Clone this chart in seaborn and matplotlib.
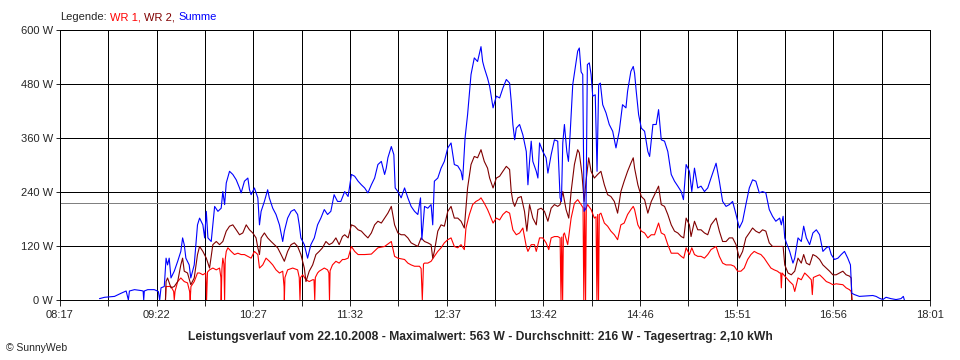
import matplotlib
matplotlib.use("Agg")
import pandas as pd
import matplotlib.pyplot as plt
import seaborn as sns

# Leistungsverlauf 22.10.2008, Zeit in Minuten nach Mitternacht, Leistung in W

t_sum = [523.5, 526.9, 533.6, 538.0, 541.4, 542.9, 543.6, 547.0, 551.4, 552.8, 553.2, 553.6, 555.9, 560.3,
         563.0, 563.9, 564.8, 567.0, 568.2, 569.2, 570.3, 571.5, 573.7, 576.0, 578.1, 579.3, 580.4, 581.5,
         583.7, 584.8, 587.1, 589.3,
         590.7, 592.9, 594.1, 595.2, 596.3, 598.5, 600.8, 603.0, 605.2, 606.3, 607.5, 608.6, 610.8, 613.0,
         615.3, 617.5, 618.6, 620.8, 623.1, 624.2, 625.3, 627.5, 629.8, 630.9, 632.0, 634.2, 636.4, 637.5,
         639.8, 642.0, 644.3, 646.5, 647.6, 649.8, 652.1, 654.3, 656.5, 657.6, 658.7, 661.0, 663.2, 665.4,
         667.7, 669.9, 672.1, 674.4, 676.6, 678.8, 681.0, 683.3, 685.5,
         688.1, 690.4, 692.6, 694.8, 697.1, 699.3, 701.5, 703.7, 706.0, 708.2, 710.4, 712.7, 714.9, 716.0,
         717.1, 719.4, 721.1, 722.0, 723.8, 726.0, 728.3, 730.5, 732.7, 735.0, 737.2, 739.0, 739.9, 741.7,
         743.9, 746.1, 747.2, 748.3, 750.6, 752.8, 755.0, 757.3, 759.5, 761.7, 764.0, 766.2, 767.3, 768.9,
         770.6, 772.9, 775.1, 777.3, 779.6, 780.7, 781.8, 784.0,
         785.4, 787.7, 789.9, 792.1, 794.3, 796.6, 798.8, 799.9, 801.0, 802.2, 803.3, 805.5, 807.7, 810.0,
         811.1, 812.2, 813.3, 814.4, 816.7, 817.8, 818.9, 821.1, 823.3, 824.5, 826.7, 828.9, 831.1, 832.7,
         833.6, 834.5, 835.6, 837.2, 838.3, 839.4, 841.2, 842.3, 844.5, 845.6, 846.8, 847.9, 848.8, 850.1,
         851.0, 852.3, 853.5, 854.6, 856.3, 857.5, 858.6, 859.7, 861.3, 863.5, 865.7, 868.0, 870.2, 872.4,
         874.6, 876.9, 878.0, 880.2, 881.8,
         882.7, 883.8, 885.4, 887.2, 889.4, 891.6, 892.8, 895.0, 897.2, 898.8, 900.6, 902.8, 905.0, 907.3,
         909.5, 911.7, 914.0, 915.5, 917.3, 919.5, 921.1, 922.9, 925.1, 927.3, 929.6, 931.8, 934.0, 937.4,
         939.6, 941.8, 944.1, 946.3, 948.5, 950.8, 953.0, 955.2, 957.4, 959.7, 961.9, 964.1, 966.4, 968.6,
         970.8, 973.1, 975.3, 977.5,
         980.1, 981.2, 982.4, 983.5, 984.6, 986.8, 989.0, 990.2, 992.4, 994.6, 996.2, 998.0, 1000.2, 1002.4,
         1004.7, 1006.9, 1009.1, 1011.4, 1013.1, 1014.7, 1016.9, 1019.2, 1021.4, 1023.6, 1025.8, 1027.6,
         1028.5, 1030.3, 1033.6, 1038.1, 1042.6, 1044.8, 1047.0, 1049.3, 1051.5, 1054.8, 1058.2, 1061.5,
         1063.1, 1063.8]
p_sum = [3, 6, 8, 15, 20, 0, 20, 23, 21, 20, 0, 20, 23, 23,
         19, 0, 27, 30, 93, 78, 93, 49, 64, 86, 108, 138, 123, 93,
         78, 49, 78, 167,
         182, 167, 138, 197, 138, 130, 208, 197, 204, 241, 212, 260, 286, 279,
         267, 249, 238, 264, 271, 245, 234, 249, 227, 167, 197, 219, 245, 227,
         204, 190, 167, 130, 153, 182, 197, 201, 190, 167, 138, 123, 93, 123,
         138, 167, 182, 201, 190, 197, 234, 219, 219,
         241, 230, 279, 275, 264, 256, 249, 238, 256, 271, 301, 308, 279, 293,
         316, 341, 323, 249, 241, 227, 249, 227, 208, 197, 190, 227, 134, 208,
         204, 212, 167, 264, 271, 293, 308, 338, 349, 301, 298, 286, 267, 360,
         412, 501, 538, 530, 563, 530, 516, 493,
         475, 427, 453, 449, 471, 490, 482, 441, 390, 356, 382, 390, 367, 330,
         256, 308, 353, 308, 286, 271, 349, 330, 316, 282, 323, 356, 353, 227,
         219, 349, 390, 330, 308, 367, 479, 504, 553, 560, 507, 501, 197, 204,
         523, 527, 501, 453, 456, 286, 479, 482, 434, 416, 390, 375, 338, 375,
         434, 427, 464, 508, 519,
         504, 464, 412, 382, 375, 330, 319, 390, 390, 423, 356, 353, 330, 279,
         264, 253, 241, 223, 301, 286, 241, 293, 249, 253, 241, 249, 271, 304,
         264, 219, 208, 212, 219, 190, 160, 175, 212, 249, 267, 264, 238, 241,
         238, 201, 186, 175,
         182, 167, 186, 138, 127, 108, 82, 93, 138, 130, 164, 138, 123, 149,
         156, 145, 108, 116, 119, 101, 90, 93, 101, 108, 93, 78,
         15, 12, 8, 9, 10, 8, 4, 1, 6, 3, 1, 3,
         8, 0]

t_wr2 = [567.8, 568.2, 569.2, 571.5, 573.7, 576.0, 578.1, 579.3, 580.4, 582.6, 584.8, 587.1, 589.3,
         590.7, 592.9, 595.2, 597.4, 599.6, 601.9, 604.1, 606.3, 608.6, 610.8, 613.0, 615.3, 617.5, 619.7,
         622.0, 624.2, 626.4, 628.6, 629.8, 630.9, 632.0, 634.2, 636.4, 638.7, 640.9, 643.1, 645.4, 647.6,
         649.8, 652.1, 654.3, 656.5, 658.7, 661.0, 662.1, 664.3, 666.6, 668.8, 671.0, 673.2, 675.5, 677.7,
         679.9, 682.2, 684.4, 686.6,
         688.1, 690.4, 692.6, 694.8, 697.1, 699.3, 701.5, 703.7, 706.0, 708.2, 710.4, 712.7, 714.9, 717.1,
         719.4, 721.6, 723.8, 726.0, 728.3, 730.5, 732.7, 735.0, 737.2, 739.4, 741.7, 743.9, 746.1, 747.2,
         748.3, 750.6, 752.8, 755.0, 757.3, 759.5, 761.7, 764.0, 766.2, 768.4, 770.6, 772.9, 775.1, 777.3,
         779.6, 781.8, 784.0,
         785.4, 787.7, 789.9, 792.1, 794.3, 796.6, 798.8, 799.9, 801.0, 802.2, 804.4, 806.6, 808.8, 810.4,
         812.2, 814.4, 816.7, 817.8, 820.0, 822.2, 824.5, 826.7, 828.9, 831.1, 832.7, 834.5, 836.7, 838.5,
         840.1, 842.3, 844.5, 845.6, 847.4, 848.8, 850.1, 851.9, 853.5, 855.7, 857.9, 860.1, 862.4, 864.6,
         866.8, 869.1, 871.3, 873.5, 875.7, 878.0, 880.2, 881.8,
         882.7, 884.9, 887.2, 889.4, 891.6, 893.9, 896.1, 898.8, 900.6, 902.8, 905.0, 907.3, 909.5, 911.7,
         914.0, 915.7, 917.3, 919.5, 920.6, 922.9, 925.1, 927.3, 929.6, 931.8, 934.0, 937.4, 939.6, 941.8,
         944.1, 946.3, 948.5, 950.8, 953.0, 955.2, 957.4, 959.7, 961.9, 964.1, 966.4, 968.6, 970.8, 973.1,
         975.3, 977.5,
         980.1, 982.4, 983.5, 985.7, 987.9, 990.2, 992.4, 994.6, 996.2, 998.0, 1000.2, 1002.4, 1004.7,
         1006.9, 1009.1, 1011.4, 1013.6, 1015.8, 1018.0, 1020.3, 1022.5, 1024.7, 1027.0, 1028.1, 1028.5]
p_wr2 = [0, 41, 49, 27, 30, 41, 78, 93, 64, 60, 34, 49, 101,
         119, 108, 93, 71, 123, 130, 123, 130, 153, 164, 167, 156, 145, 149,
         167, 156, 149, 138, 116, 101, 138, 149, 138, 130, 123, 116, 101, 86,
         108, 123, 127, 119, 101, 71, 41, 64, 78, 101, 108, 116, 130, 123,
         127, 138, 123, 141,
         145, 138, 167, 164, 156, 153, 145, 138, 149, 167, 175, 171, 182, 193,
         208, 167, 149, 145, 145, 138, 127, 123, 119, 138, 130, 127, 123, 93,
         108, 153, 167, 164, 197, 208, 182, 182, 175, 160, 249, 301, 319, 316,
         334, 308, 293,
         271, 249, 271, 275, 286, 297, 290, 241, 219, 208, 227, 230, 197, 153,
         212, 182, 167, 201, 204, 197, 175, 204, 212, 208, 212, 241, 201, 182,
         241, 301, 334, 327, 279, 219, 264, 316, 286, 271, 279, 286, 256, 234,
         230, 219, 193, 241, 264, 286, 304, 316,
         293, 256, 230, 223, 193, 219, 234, 253, 212, 208, 190, 167, 153, 149,
         141, 138, 182, 167, 141, 175, 156, 156, 149, 145, 167, 182, 153, 130,
         130, 138, 138, 123, 93, 108, 138, 149, 160, 153, 149, 156, 153, 127,
         119, 119,
         119, 119, 78, 60, 56, 64, 93, 82, 101, 82, 78, 101, 97,
         90, 78, 71, 64, 56, 56, 60, 64, 56, 53, 49, 0]

t_wr1 = [567.8, 568.2, 571.5, 573.3, 573.7, 574.2, 576.0, 578.1, 580.4, 582.6, 584.0, 584.4, 584.9, 587.1,
         589.3,
         590.7, 592.9, 594.8, 595.4, 596.0, 597.4, 599.6, 601.9, 604.1, 605.0, 605.2, 605.7, 606.3, 607.0,
         607.5, 607.9, 608.6, 609.7, 611.9, 614.1, 616.4, 618.6, 620.8, 623.1, 625.3, 627.5, 629.8, 630.9,
         633.1, 635.3, 637.6, 639.8, 642.0, 644.3, 646.5, 647.4, 647.6, 648.0, 649.8, 653.2, 656.5, 657.6,
         658.1, 658.5, 659.9, 662.1, 664.3, 666.6, 667.5, 668.0, 668.4, 669.9, 671.0, 674.4, 676.6, 677.5,
         677.9, 678.3, 679.9, 682.2, 684.4, 686.6,
         688.1, 690.4, 692.6, 694.8, 697.1, 701.5, 706.0, 710.4, 714.9, 719.4, 721.6, 723.8, 728.3, 730.5,
         732.7, 735.0, 738.3, 739.4, 740.2, 741.0, 741.7, 743.9, 746.1, 748.3, 750.6, 752.8, 755.0, 757.3,
         759.5, 761.7, 764.0, 766.2, 768.4, 769.5, 771.8, 774.0, 776.2, 778.4, 779.6, 781.8, 784.0,
         785.4, 787.7, 789.9, 792.1, 794.3, 796.6, 798.8, 801.0, 803.3, 805.5, 807.7, 810.0, 811.1, 813.3,
         815.5, 816.7, 818.9, 821.1, 823.3, 825.1, 826.7, 828.9, 831.1, 832.7, 833.3, 833.8, 834.4, 834.9,
         835.6, 837.8, 840.1, 842.3, 844.5, 846.8, 848.1, 848.6, 849.2, 849.8, 850.3, 851.2, 853.5, 855.7,
         856.8, 857.4, 857.9, 858.5, 859.0, 860.1, 862.4, 864.6, 866.8, 869.1, 871.3, 873.5, 875.7, 878.0,
         880.2, 881.8,
         882.7, 884.9, 887.2, 889.4, 891.6, 893.9, 896.1, 898.8, 900.6, 902.8, 905.0, 907.3, 909.5, 911.7,
         914.0, 915.7, 917.3, 919.5, 921.1, 922.9, 925.1, 927.3, 929.6, 931.8, 934.0, 937.4, 939.6, 941.8,
         944.1, 947.4, 949.6, 951.9, 954.1, 956.3, 958.6, 960.8, 963.0, 965.2, 967.5, 969.7, 971.9, 974.2,
         976.4, 978.6,
         980.1, 980.8, 981.2, 981.7, 984.6, 986.8, 989.0, 990.2, 992.4, 994.6, 996.9, 999.1, 1001.3, 1002.0,
         1002.7, 1004.7, 1006.9, 1009.1, 1011.4, 1013.6, 1015.8, 1018.0, 1020.3, 1022.5, 1024.7, 1026.9,
         1028.1, 1028.7]
p_wr1 = [0, 30, 30, 19, 0, 19, 41, 49, 41, 38, 19, 0, 30, 41,
         60,
         60, 56, 60, 0, 62, 67, 71, 67, 71, 50, 0, 70, 93, 80,
         0, 90, 108, 116, 108, 101, 104, 101, 101, 97, 93, 108, 101, 71,
         78, 93, 86, 78, 67, 60, 64, 30, 0, 50, 67, 71, 67, 50,
         0, 50, 56, 45, 41, 45, 45, 0, 50, 60, 64, 71, 67, 60,
         0, 65, 78, 86, 82, 90,
         90, 93, 119, 108, 101, 101, 102, 116, 119, 130, 97, 93, 90, 82,
         78, 75, 75, 70, 0, 80, 82, 82, 86, 97, 108, 116, 127, 134,
         138, 119, 116, 123, 112, 160, 190, 212, 219, 223, 227, 215, 201,
         190, 171, 182, 178, 190, 197, 193, 156, 145, 149, 160, 119, 108, 123,
         123, 108, 138, 138, 127, 112, 138, 141, 141, 138, 0, 140, 0, 145,
         149, 123, 182, 215, 223, 212, 205, 0, 205, 0, 205, 212, 201, 182,
         185, 0, 190, 0, 190, 193, 171, 164, 153, 145, 134, 167, 171, 190,
         201, 208,
         201, 167, 153, 149, 138, 145, 145, 171, 149, 145, 123, 104, 104, 104,
         97, 93, 116, 101, 116, 101, 97, 97, 93, 101, 112, 119, 97, 82,
         78, 78, 75, 64, 64, 71, 90, 101, 108, 104, 101, 93, 82, 71,
         67, 64,
         60, 60, 27, 60, 49, 41, 34, 19, 49, 45, 60, 53, 45, 12,
         50, 53, 56, 49, 41, 38, 34, 36, 35, 34, 27, 23,
         19, 0]

series_names = ["WR 1", "WR 2", "Summe"]
series_colors = ["#ff0000", "#800000", "#0000ff"]

time_labels = ["08:17", "09:22", "10:27", "11:32", "12:37", "13:42", "14:46", "15:51", "16:56", "18:01"]
t_start, t_end = 497, 1081
y_ticks = [0, 120, 240, 360, 480, 600]

avg_w = 216
title = ("Leistungsverlauf vom 22.10.2008 - Maximalwert: 563 W - "
         "Durchschnitt: 216 W - Tagesertrag: 2,10 kWh")

df = pd.concat([
    pd.DataFrame({"t": t_wr1, "P": p_wr1, "Reihe": "WR 1"}),
    pd.DataFrame({"t": t_wr2, "P": p_wr2, "Reihe": "WR 2"}),
    pd.DataFrame({"t": t_sum, "P": p_sum, "Reihe": "Summe"}),
], ignore_index=True)

sns.set_style("white")
plt.rcParams["font.family"] = ["Liberation Sans", "DejaVu Sans"]

fig = plt.figure(figsize=(9.6, 3.6), dpi=100)
ax = fig.add_axes([60 / 960, 60 / 360, 870 / 960, 270 / 360])

n = len(time_labels) - 1
step = (t_end - t_start) / n
major = [t_start + i * step for i in range(n + 1)]
minor = [t_start + (i + 0.5) * step for i in range(n)]

ax.set_xticks(major)
ax.set_xticklabels(time_labels)
ax.set_xticks(minor, minor=True)
ax.set_yticks(y_ticks)
ax.set_yticklabels([f"{v} W" for v in y_ticks])
ax.grid(which="both", color="black", lw=0.6, antialiased=False)
ax.set_axisbelow(True)

ax.axhline(avg_w, color="#808080", lw=0.6, zorder=1.5, antialiased=False)

sns.lineplot(data=df, x="t", y="P", hue="Reihe", hue_order=series_names,
             palette=series_colors, estimator=None, sort=False, legend=False,
             linewidth=0.8, ax=ax)

ax.set_xlim(t_start, t_end)
ax.set_ylim(0, 600)
ax.set_xlabel("")
ax.set_ylabel("")
ax.tick_params(axis="x", which="both", direction="out", length=4, width=0.6,
               color="black", pad=3, labelsize=8, bottom=True)
ax.tick_params(axis="y", direction="out", length=3, width=0.6,
               color="black", pad=2, labelsize=8, left=True)
for s in ax.spines.values():
    s.set_color("black")
    s.set_linewidth(0.7)

# Legende oben links
leg = fig.text(60 / 960, 1 - 17 / 360, "Legende:", fontsize=8, va="center")
prev = leg
for name, col in zip(series_names, series_colors):
    label = name if name == series_names[-1] else name + ","
    prev = ax.annotate(label, xy=(1, 0), xycoords=prev, xytext=(2.5, 0),
                       textcoords="offset points", va="bottom", ha="left",
                       color=col, fontsize=8)

fig.text(0.5, 1 - 337 / 360, title, ha="center", va="center",
         fontsize=8.7, fontweight="bold")
fig.text(6 / 960, 1 - 348 / 360, "\u00a9 SunnyWeb", fontsize=7.5, va="center")

fig.savefig("out.png", dpi=100)
